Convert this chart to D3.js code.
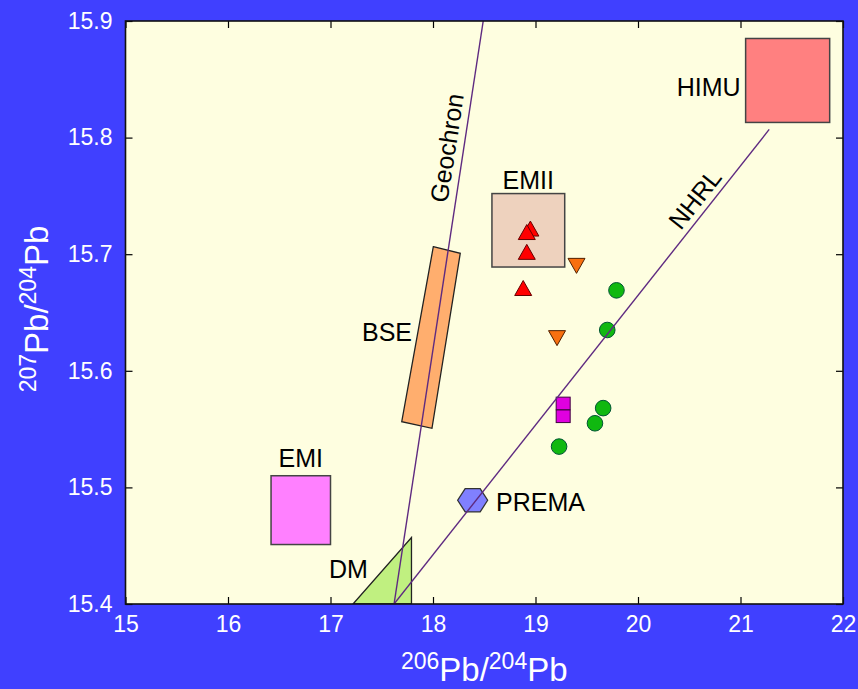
<!DOCTYPE html>
<html>
<head>
<meta charset="utf-8">
<script src="https://d3js.org/d3.v7.min.js"></script>
<style>
  html, body { margin: 0; padding: 0; background: #4040ff; }
  svg { display: block; font-family: "Liberation Sans", Arial, sans-serif; }
  .tick text { fill: #ffffff; font-size: 23px; }
  .domain { display: none; }
  .tick line { stroke: #000; stroke-width: 1.2; }
  .lbl { fill: #000; font-size: 25px; }
</style>
</head>
<body>
<div id="chart"></div>
<script>
// Pb isotope mantle reservoirs diagram

// axis ticks
const xTicks = [15, 16, 17, 18, 19, 20, 21, 22];
const yTicks = [15.4, 15.5, 15.6, 15.7, 15.8, 15.9];

// reference lines [x, y] pairs
const geochron = [[17.62, 15.4], [18.49, 15.9]];
const nhrl = [[17.62, 15.4], [21.28, 15.807]];

// rectangular reservoirs: name, x0, x1, y0, y1
const boxNames = ["HIMU", "EMII", "EMI"];
const boxX0 = [21.05, 18.575, 16.42];
const boxX1 = [21.87, 19.285, 17.0];
const boxY0 = [15.813, 15.689, 15.451];
const boxY1 = [15.885, 15.752, 15.51];
const boxColors = ["#ff8080", "#eed2be", "#ff80ff"];

// BSE parallelogram corners
const bse = [[18.003, 15.7064], [18.266, 15.7008], [17.99, 15.5507], [17.695, 15.5564]];
// DM triangle corners
const dm = [[17.22, 15.4], [17.79, 15.457], [17.79, 15.4]];
// PREMA
const prema = [18.387, 15.489];

// sample points
const redUp = [[18.95, 15.722], [18.915, 15.719], [18.915, 15.702], [18.88, 15.671]];
const orangeDown = [[19.40, 15.690], [19.21, 15.628]];
const greenDots = [[19.79, 15.669], [19.70, 15.635], [19.66, 15.568], [19.58, 15.555], [19.23, 15.535]];
const magentaBoxes = [[19.27, 15.572], [19.27, 15.561]];

function createVisualization() {
    const svgWidth = 858;
    const svgHeight = 689;
    const left = 125.5, right = 843, top = 21, bottom = 604;

    const svg = d3.select("#chart")
        .append("svg")
        .attr("width", svgWidth)
        .attr("height", svgHeight);

    svg.append("rect")
        .attr("width", svgWidth).attr("height", svgHeight)
        .attr("fill", "#4040ff");

    const xScale = d3.scaleLinear().domain([15, 22]).range([left, right]);
    const yScale = d3.scaleLinear().domain([15.4, 15.9]).range([bottom, top]);

    // plot background
    svg.append("rect")
        .attr("x", left).attr("y", top)
        .attr("width", right - left).attr("height", bottom - top)
        .attr("fill", "#fefee0");

    svg.append("clipPath").attr("id", "clip")
        .append("rect")
        .attr("x", left).attr("y", top)
        .attr("width", right - left).attr("height", bottom - top);

    const plot = svg.append("g").attr("clip-path", "url(#clip)");

    // boxes
    boxNames.forEach((name, i) => {
        plot.append("rect")
            .attr("x", xScale(boxX0[i]))
            .attr("y", yScale(boxY1[i]))
            .attr("width", xScale(boxX1[i]) - xScale(boxX0[i]))
            .attr("height", yScale(boxY0[i]) - yScale(boxY1[i]))
            .attr("fill", boxColors[i])
            .attr("stroke", "#444")
            .attr("stroke-width", 1.5);
    });

    const poly = d3.line().x(d => xScale(d[0])).y(d => yScale(d[1]));

    plot.append("path")
        .attr("d", poly(bse) + "Z")
        .attr("fill", "#ffae6e")
        .attr("stroke", "#222")
        .attr("stroke-width", 1.3);

    plot.append("path")
        .attr("d", poly(dm) + "Z")
        .attr("fill", "#c0f080")
        .attr("stroke", "#222")
        .attr("stroke-width", 1.3);

    // PREMA hexagon
    const hexR = 15;
    const hexPts = d3.range(6).map(k => {
        const a = k * Math.PI / 3;
        return [xScale(prema[0]) + hexR * Math.cos(a), yScale(prema[1]) + hexR * 0.9 * Math.sin(a)];
    });
    plot.append("path")
        .attr("d", "M" + hexPts.join("L") + "Z")
        .attr("fill", "#8080ff")
        .attr("stroke", "#333")
        .attr("stroke-width", 1.3);

    // markers
    const tri = (cx, cy, dir) => {
        const hw = 8.5, hh = 7.5 * dir;
        return `M${cx},${cy - hh}L${cx + hw},${cy + hh}L${cx - hw},${cy + hh}Z`;
    };

    plot.selectAll(".up").data(redUp).enter().append("path")
        .attr("d", d => tri(xScale(d[0]), yScale(d[1]), 1))
        .attr("fill", "#ff0000").attr("stroke", "#600").attr("stroke-width", 1);

    plot.selectAll(".down").data(orangeDown).enter().append("path")
        .attr("d", d => tri(xScale(d[0]), yScale(d[1]), -1))
        .attr("fill", "#f87010").attr("stroke", "#502000").attr("stroke-width", 1);

    plot.selectAll(".mag").data(magentaBoxes).enter().append("rect")
        .attr("x", d => xScale(d[0]) - 7)
        .attr("y", d => yScale(d[1]) - 6.3)
        .attr("width", 14).attr("height", 12.6)
        .attr("fill", "#e000e0").attr("stroke", "#400040").attr("stroke-width", 1);

    plot.selectAll(".dot").data(greenDots).enter().append("circle")
        .attr("cx", d => xScale(d[0]))
        .attr("cy", d => yScale(d[1]))
        .attr("r", 7.8)
        .attr("fill", "#10b810").attr("stroke", "#053").attr("stroke-width", 1);

    // reference lines
    [geochron, nhrl].forEach(l => {
        plot.append("path")
            .attr("d", poly(l))
            .attr("fill", "none")
            .attr("stroke", "#5e2a80")
            .attr("stroke-width", 1.4);
    });

    // labels
    const label = (txt, x, y, anchor) => svg.append("text")
        .attr("class", "lbl")
        .attr("x", x).attr("y", y)
        .attr("text-anchor", anchor)
        .text(txt);

    label("HIMU", xScale(boxX0[0]) - 5, 96, "end");
    label("EMII", (xScale(boxX0[1]) + xScale(boxX1[1])) / 2, 189, "middle");
    label("EMI", (xScale(boxX0[2]) + xScale(boxX1[2])) / 2, 467, "middle");
    label("BSE", 412, 341, "end");
    label("DM", 329, 578, "start");
    label("PREMA", 496, 511, "start");

    const lineAngle = l => Math.atan2(yScale(l[1][1]) - yScale(l[0][1]), xScale(l[1][0]) - xScale(l[0][0])) * 180 / Math.PI;

    svg.append("text").attr("class", "lbl")
        .attr("text-anchor", "middle")
        .attr("dy", "0.35em")
        .attr("transform", `translate(447,148) rotate(${lineAngle(geochron)})`)
        .text("Geochron");

    svg.append("text").attr("class", "lbl")
        .attr("text-anchor", "middle")
        .attr("dy", "0.35em")
        .attr("transform", `translate(695,199) rotate(${lineAngle(nhrl)})`)
        .text("NHRL");

    // axes with inward ticks
    svg.append("g")
        .attr("transform", `translate(0,${bottom})`)
        .call(d3.axisBottom(xScale).tickValues(xTicks).tickFormat(d3.format("d"))
            .tickSizeInner(-7).tickSizeOuter(0).tickPadding(12));

    svg.append("g")
        .attr("transform", `translate(0,${top})`)
        .call(d3.axisTop(xScale).tickValues(xTicks).tickFormat("")
            .tickSizeInner(-7).tickSizeOuter(0));

    svg.append("g")
        .attr("transform", `translate(${left},0)`)
        .call(d3.axisLeft(yScale).tickValues(yTicks).tickFormat(d3.format(".1f"))
            .tickSizeInner(-7).tickSizeOuter(0).tickPadding(13));

    svg.append("g")
        .attr("transform", `translate(${right},0)`)
        .call(d3.axisRight(yScale).tickValues(yTicks).tickFormat("")
            .tickSizeInner(-7).tickSizeOuter(0));

    // frame
    svg.append("rect")
        .attr("x", left).attr("y", top)
        .attr("width", right - left).attr("height", bottom - top)
        .attr("fill", "none")
        .attr("stroke", "#111")
        .attr("stroke-width", 1.6);

    // axis titles
    const xt = svg.append("text")
        .attr("x", (left + right) / 2).attr("y", 681)
        .attr("text-anchor", "middle")
        .attr("fill", "#fff")
        .attr("font-size", 33);
    xt.append("tspan").attr("font-size", 23).text("206");
    xt.append("tspan").text("Pb/");
    xt.append("tspan").attr("font-size", 23).text("204");
    xt.append("tspan").text("Pb");

    const yt = svg.append("text")
        .attr("transform", "translate(48,309) rotate(-90)")
        .attr("text-anchor", "middle")
        .attr("fill", "#fff")
        .attr("font-size", 33);
    yt.append("tspan").attr("font-size", 23).text("207");
    yt.append("tspan").text("Pb/");
    yt.append("tspan").attr("font-size", 23).text("204");
    yt.append("tspan").text("Pb");

    // raise superscripts
    [xt, yt].forEach(t => {
        t.selectAll("tspan").each(function (d, i) {
            d3.select(this).attr("dy", i % 2 === 0 ? -12 : 12);
        });
    });
}

createVisualization();
</script>
</body>
</html>
